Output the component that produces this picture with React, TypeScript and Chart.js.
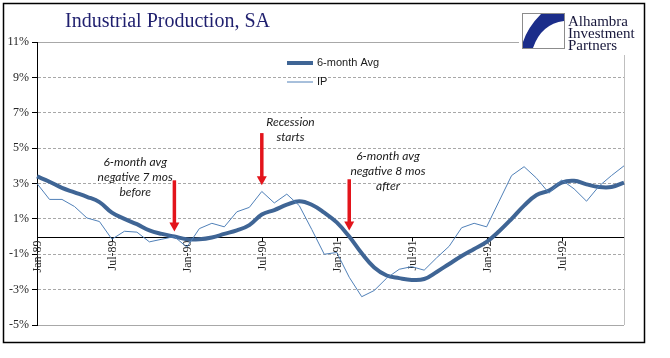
import React, { useEffect, useRef } from 'react';
import { Chart, registerables } from 'chart.js';

Chart.register(...registerables);

// ---------- data ----------
const months = [
  'Jan-89', 'Feb-89', 'Mar-89', 'Apr-89', 'May-89', 'Jun-89', 'Jul-89', 'Aug-89', 'Sep-89', 'Oct-89', 'Nov-89', 'Dec-89',
  'Jan-90', 'Feb-90', 'Mar-90', 'Apr-90', 'May-90', 'Jun-90', 'Jul-90', 'Aug-90', 'Sep-90', 'Oct-90', 'Nov-90', 'Dec-90',
  'Jan-91', 'Feb-91', 'Mar-91', 'Apr-91', 'May-91', 'Jun-91', 'Jul-91', 'Aug-91', 'Sep-91', 'Oct-91', 'Nov-91', 'Dec-91',
  'Jan-92', 'Feb-92', 'Mar-92', 'Apr-92', 'May-92', 'Jun-92', 'Jul-92', 'Aug-92', 'Sep-92', 'Oct-92', 'Nov-92', 'Dec-92',
];

const avg6 = [
  3.4, 3.1, 2.75, 2.5, 2.25, 1.95, 1.35, 1.0, 0.7, 0.35, 0.15, 0.0,
  -0.15, -0.15, -0.05, 0.15, 0.35, 0.65, 1.25, 1.5, 1.8, 2.0, 1.8, 1.35,
  0.8, 0.0, -0.95, -1.75, -2.2, -2.35, -2.45, -2.4, -2.0, -1.55, -1.1, -0.7,
  -0.3, 0.3, 1.0, 1.75, 2.35, 2.6, 3.05, 3.15, 2.95, 2.8, 2.8, 3.05,
];

const ip = [
  3.0, 2.1, 2.1, 1.7, 1.05, 0.85, -0.15, 0.3, 0.25, -0.3, -0.15, 0.0,
  -0.6, 0.45, 0.75, 0.55, 1.4, 1.65, 2.55, 1.9, 2.4, 1.75, 0.4, -1.0,
  -0.9, -2.3, -3.4, -3.05, -2.35, -1.85, -1.7, -1.9, -1.2, -0.55, 0.5, 0.75,
  0.55, 2.0, 3.45, 3.95, 3.3, 2.45, 3.2, 2.7, 2.0, 2.85, 3.45, 4.0,
];

const xTickLabels = ['Jan-89', 'Jul-89', 'Jan-90', 'Jul-90', 'Jan-91', 'Jul-91', 'Jan-92', 'Jul-92'];
const yMin = -5;
const yMax = 11;
const yStep = 2;

const titleText = 'Industrial Production, SA';
const logoLines = ['Alhambra', 'Investment', 'Partners'];
const seriesNames = ['6-month Avg', 'IP'];

const noteLines = [
  ['6-month avg', 'negative 7 mos', 'before'],
  ['Recession', 'starts'],
  ['6-month avg', 'negative 8 mos', 'after'],
];
const noteIndex = [7.86, 20.3, 28.1];
const noteValue = [4.2, 6.48, 4.55];
const arrowAt = ['Dec-89', 'Jul-90', 'Feb-91'];
const arrowFrom = [3.18, 5.85, 3.24];
const arrowTo = [0.28, 2.9, 0.34];

// ---------- styles ----------
const THICK = '#3F6595';
const THIN = '#5080B8';
const RED = '#E3141B';
const GRID = '#A8A8A8';
const SERIF = '"Liberation Serif", "Times New Roman", serif';
const SANS = '"Liberation Sans", Arial, sans-serif';

const decorPlugin = {
  id: 'decor',
  beforeDatasetsDraw(chart: any) {
    const { ctx, chartArea, scales } = chart;
    const y0 = Math.round(scales.y.getPixelForValue(0)) + 0.5;
    ctx.save();
    // plot area right border
    ctx.strokeStyle = '#BFBFBF';
    ctx.lineWidth = 1;
    ctx.beginPath();
    ctx.moveTo(Math.round(chartArea.right) + 0.5, chartArea.top);
    ctx.lineTo(Math.round(chartArea.right) + 0.5, chartArea.bottom);
    ctx.stroke();
    // zero axis line
    ctx.strokeStyle = '#000';
    ctx.lineWidth = 1.2;
    ctx.beginPath();
    ctx.moveTo(chartArea.left, y0);
    ctx.lineTo(chartArea.right, y0);
    ctx.stroke();
    // x ticks + labels
    ctx.fillStyle = '#262626';
    ctx.font = '12px ' + SERIF;
    ctx.lineWidth = 1;
    xTickLabels.forEach((lab) => {
      const idx = months.indexOf(lab);
      const x = Math.round(scales.x.getPixelForValue(idx)) + 0.5;
      ctx.beginPath();
      ctx.moveTo(x, y0);
      ctx.lineTo(x, y0 + 4);
      ctx.stroke();
      ctx.save();
      ctx.translate(x, y0 + 3);
      ctx.rotate(-Math.PI / 2);
      ctx.textAlign = 'right';
      ctx.textBaseline = 'middle';
      ctx.fillText(lab, 0, 0);
      ctx.restore();
    });
    ctx.restore();
  },
  afterDraw(chart: any) {
    const { ctx, scales } = chart;
    ctx.save();

    // legend
    const legendColors = [THICK, THIN];
    const legendWidths = [4, 1];
    const legendY = [63, 82];
    seriesNames.forEach((name, i) => {
      ctx.strokeStyle = legendColors[i];
      ctx.lineWidth = legendWidths[i];
      ctx.beginPath();
      ctx.moveTo(287, legendY[i]);
      ctx.lineTo(313, legendY[i]);
      ctx.stroke();
      ctx.fillStyle = '#1a1a1a';
      ctx.font = '11px ' + SANS;
      ctx.textAlign = 'left';
      ctx.textBaseline = 'middle';
      ctx.fillText(name, 317, legendY[i]);
    });

    // notes
    ctx.fillStyle = '#1a1a1a';
    ctx.font = 'italic 12px Lato, "Open Sans", sans-serif';
    ctx.textAlign = 'center';
    ctx.textBaseline = 'middle';
    noteLines.forEach((lines, n) => {
      const x = scales.x.getPixelForValue(noteIndex[n]);
      const y = scales.y.getPixelForValue(noteValue[n]);
      lines.forEach((t, k) => ctx.fillText(t, x, y + k * 15));
    });

    // arrows
    arrowAt.forEach((lab, n) => {
      const x = scales.x.getPixelForValue(months.indexOf(lab));
      const yA = scales.y.getPixelForValue(arrowFrom[n]);
      const yB = scales.y.getPixelForValue(arrowTo[n]);
      ctx.strokeStyle = RED;
      ctx.fillStyle = RED;
      ctx.lineWidth = 3.5;
      ctx.beginPath();
      ctx.moveTo(x, yA);
      ctx.lineTo(x, yB - 8);
      ctx.stroke();
      ctx.beginPath();
      ctx.moveTo(x - 5, yB - 9);
      ctx.lineTo(x + 5, yB - 9);
      ctx.lineTo(x, yB);
      ctx.closePath();
      ctx.fill();
    });

    // title
    ctx.fillStyle = '#1F1F6E';
    ctx.font = '20px ' + SERIF;
    ctx.textAlign = 'left';
    ctx.textBaseline = 'alphabetic';
    ctx.fillText(titleText, 65, 27);

    // logo
    ctx.fillStyle = '#fff';
    ctx.fillRect(519, 9, 124, 46);
    ctx.strokeStyle = '#8C8C8C';
    ctx.lineWidth = 1;
    ctx.strokeRect(522.5, 13.5, 42, 35);
    ctx.fillStyle = '#1B2D8A';
    ctx.beginPath();
    ctx.moveTo(541, 14);
    ctx.lineTo(564, 14);
    ctx.lineTo(564, 21);
    ctx.quadraticCurveTo(541, 24, 533, 48);
    ctx.lineTo(523, 48);
    ctx.lineTo(523, 42);
    ctx.quadraticCurveTo(528, 27, 541, 14);
    ctx.closePath();
    ctx.fill();
    ctx.fillStyle = '#16163A';
    ctx.font = '15px ' + SERIF;
    logoLines.forEach((t, k) => ctx.fillText(t, 568, 26 + k * 12));

    // outer frame
    ctx.strokeStyle = '#000';
    ctx.lineWidth = 1.5;
    ctx.strokeRect(3.5, 3.5, 641, 339);
    ctx.restore();
  },
};

export default function App() {
  const ref = useRef<HTMLCanvasElement | null>(null);
  useEffect(() => {
    if (!ref.current) return;
    const chart = new Chart(ref.current, {
      type: 'line',
      data: {
        labels: months,
        datasets: [
          {
            label: seriesNames[0],
            data: avg6,
            borderColor: THICK,
            backgroundColor: THICK,
            borderWidth: 4,
            pointRadius: 0,
            tension: 0.4,
            order: 2,
          },
          {
            label: seriesNames[1],
            data: ip,
            borderColor: THIN,
            backgroundColor: THIN,
            borderWidth: 1,
            pointRadius: 0,
            tension: 0,
            order: 1,
          },
        ],
      },
      options: {
        responsive: false,
        animation: false,
        devicePixelRatio: 1,
        events: [],
        layout: { padding: { top: 42, right: 46, bottom: 33, left: 0 } },
        plugins: { legend: { display: false }, tooltip: { enabled: false }, title: { display: false } },
        scales: {
          x: { type: 'category', display: false },
          y: {
            min: yMin,
            max: yMax,
            afterFit: (s: any) => {
              s.width = 37;
            },
            ticks: {
              stepSize: yStep,
              padding: 3,
              color: '#262626',
              font: { family: SERIF, size: 12 },
              callback: (v: any) => v + '%',
            },
            grid: {
              color: GRID,
              lineWidth: 1,
              tickColor: '#000',
              tickLength: 5,
              drawTicks: true,
            },
            border: {
              display: true,
              color: '#000',
              width: 1,
              dash: (c: any) => (c.tick && (c.tick.value === yMax || c.tick.value === yMin) ? [] : [3, 2]),
            },
          },
        },
      },
      plugins: [decorPlugin],
    } as any);
    return () => chart.destroy();
  }, []);
  return (
    <div style={{ position: 'fixed', left: 0, top: 0, width: 670, height: 358, background: '#fff' }}>
      <canvas ref={ref} width={670} height={358} style={{ display: 'block' }} />
    </div>
  );
}
